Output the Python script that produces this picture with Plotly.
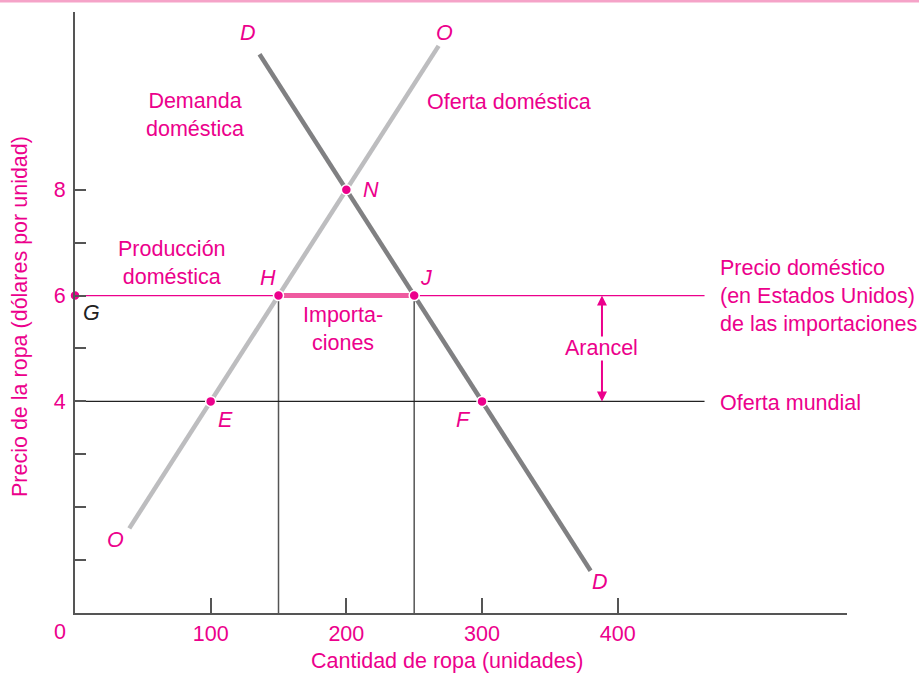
import plotly.graph_objects as go

# curves (quantity, price)
oferta_q = [40, 268]
oferta_p = [1.6, 10.72]
demanda_q = [136, 380]
demanda_p = [10.56, 0.8]

# price levels
precio_mundial = 4
precio_arancel = 6
linea_fin = 464

# labelled points
punto_nombres = ["G", "H", "J", "N", "E", "F"]
punto_q = [0, 150, 250, 200, 100, 300]
punto_p = [6, 6, 6, 8, 4, 4]

x_ticks = [100, 200, 300, 400]
y_ticks = [1, 2, 3, 4, 5, 6, 7, 8]
y_ticktext = ["", "", "", "4", "", "6", "", "8"]

PINK = "#ec008c"
FONT = "Liberation Sans"
FS = 21.5

fig = go.Figure()

# vertical guides at H and J
for q in [150, 250]:
    fig.add_trace(go.Scatter(x=[q, q], y=[0, precio_arancel], mode="lines",
                             line=dict(color="#555555", width=1.5), hoverinfo="skip"))
# world supply and tariff price lines
fig.add_trace(go.Scatter(x=[0, linea_fin], y=[precio_mundial, precio_mundial], mode="lines",
                         line=dict(color="#222222", width=1.3), hoverinfo="skip"))
fig.add_trace(go.Scatter(x=[0, linea_fin], y=[precio_arancel, precio_arancel], mode="lines",
                         line=dict(color=PINK, width=1.2), hoverinfo="skip"))
# imports segment
fig.add_trace(go.Scatter(x=[150, 250], y=[precio_arancel, precio_arancel], mode="lines",
                         line=dict(color="#ef5aa0", width=5), hoverinfo="skip"))
# supply and demand
fig.add_trace(go.Scatter(x=oferta_q, y=oferta_p, mode="lines",
                         line=dict(color="#bdbdbf", width=4.5), hoverinfo="skip"))
fig.add_trace(go.Scatter(x=demanda_q, y=demanda_p, mode="lines",
                         line=dict(color="#808082", width=4.5), hoverinfo="skip"))
# points
fig.add_trace(go.Scatter(x=punto_q, y=punto_p, mode="markers", cliponaxis=False,
                         marker=dict(color=PINK, size=10, line=dict(color="white", width=1.5)),
                         hoverinfo="skip"))

def label(x, y, text, color=PINK, italic=False, xanchor="center", align="center"):
    if italic:
        text = "<i>" + text + "</i>"
    fig.add_annotation(x=x, y=y, text=text, showarrow=False, xanchor=xanchor, align=align,
                       font=dict(family=FONT, size=FS, color=color))

label(127.5, 10.96, "D", italic=True)
label(272.7, 10.96, "O", italic=True)
label(88.4, 9.41, "Demanda<br>doméstica")
label(258, 9.66, "Oferta doméstica", xanchor="left")
label(211, 8.0, "N", italic=True, xanchor="left")
label(71.5, 6.62, "Producción<br>doméstica")
label(142, 6.33, "H", italic=True)
label(258.7, 6.33, "J", italic=True)
label(12.5, 5.67, "G", color="#222222", italic=True)
label(197.5, 5.37, "Importa-<br>ciones")
label(473.8, 6.0, "Precio doméstico<br>(en Estados Unidos)<br>de las importaciones",
      xanchor="left", align="left")
label(388.4, 5.01, "Arancel")
label(473.8, 3.97, "Oferta mundial", xanchor="left")
label(111, 3.65, "E", italic=True)
label(286.6, 3.65, "F", italic=True)
label(30.2, 1.38, "O", italic=True)
label(387, 0.59, "D", italic=True)

# origin label sits outside the axis range, so place it in paper units
fig.add_annotation(x=-0.0193, y=-0.0316, xref="paper", yref="paper", text="0",
                   xanchor="center", yanchor="middle", showarrow=False,
                   font=dict(family=FONT, size=FS, color=PINK))

# tariff arrows
for y0, y1 in [(5.2, 6.0), (4.8, 4.0)]:
    fig.add_annotation(x=388.4, y=y1, ax=388.4, ay=y0, xref="x", yref="y", axref="x", ayref="y",
                       text="", showarrow=True, arrowhead=2, arrowsize=1, arrowwidth=2,
                       arrowcolor=PINK, standoff=0)

# axis titles
fig.add_annotation(x=(447 - 75) / 772, y=-0.08, xref="paper", yref="paper",
                   xanchor="center", yanchor="middle",
                   text="Cantidad de ropa (unidades)", showarrow=False,
                   font=dict(family=FONT, size=FS, color=PINK))
fig.add_annotation(x=(20 - 75) / 772, y=(613 - 317) / 601, xref="paper", yref="paper",
                   xanchor="center", yanchor="middle", textangle=-90,
                   text="Precio de la ropa (dólares por unidad)", showarrow=False,
                   font=dict(family=FONT, size=FS, color=PINK))

# pink rule along the top of the page
fig.add_shape(type="line", xref="paper", yref="paper", x0=-0.2, x1=1.2, y0=1.018, y1=1.018,
              line=dict(color="#f5a3c8", width=2.5))

fig.update_layout(
    width=919, height=673,
    margin=dict(l=75, r=72, t=12, b=60),
    paper_bgcolor="white", plot_bgcolor="white",
    showlegend=False,
    font=dict(family=FONT, size=FS, color=PINK),
    xaxis=dict(range=[0, 569], showgrid=False, zeroline=False, showline=True,
               linecolor="#555555", linewidth=2, ticks="inside", ticklen=15,
               tickwidth=1.5, tickcolor="#555555", tickvals=x_ticks,
               tickfont=dict(family=FONT, size=FS, color=PINK)),
    yaxis=dict(range=[0, 11.36], showgrid=False, zeroline=False, showline=True,
               linecolor="#555555", linewidth=2, ticks="inside", ticklen=11,
               tickwidth=1.5, tickcolor="#555555", tickvals=y_ticks, ticktext=y_ticktext,
               ticklabelstandoff=3, tickfont=dict(family=FONT, size=FS, color=PINK)),
)

fig.write_html("out.html", config={"displayModeBar": False},
               post_script="document.body.style.margin='0px';")
